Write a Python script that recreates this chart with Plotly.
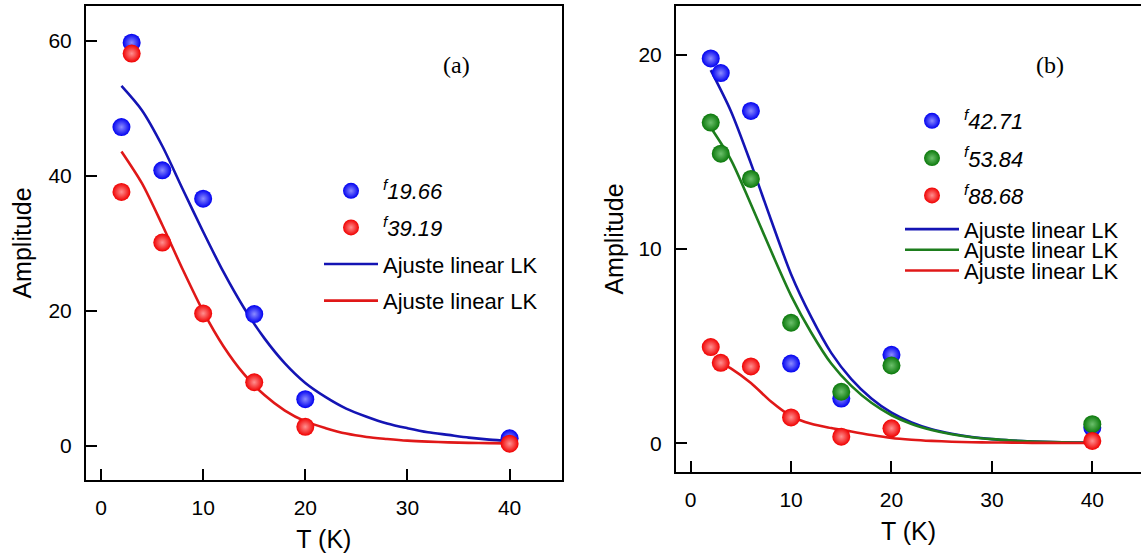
import plotly.graph_objects as go

# ---------------- data ----------------
T_pts = [2, 3, 6, 10, 15, 20, 40]
T_fit = [2, 4, 6, 8, 10, 12, 14, 16, 18, 20, 22, 24, 26, 28, 30, 32, 34, 36, 38, 40]
T_fit_red_b = [3, 4, 6, 8, 10, 12, 14, 16, 18, 20, 22, 24, 26, 28, 30, 32, 34, 36, 38, 40]

# panel (a)
a_f1966 = [47.2, 59.7, 40.8, 36.6, 19.5, 6.9, 1.1]
a_f3919 = [37.6, 58.1, 30.1, 19.6, 9.4, 2.8, 0.3]
a_fit_blue = [53.3, 49.7, 44.4, 38.0, 31.7, 25.7, 20.4, 15.9, 12.2, 9.3,
              7.2, 5.5, 4.3, 3.3, 2.6, 2.0, 1.6, 1.2, 0.9, 0.7]
a_fit_red = [43.6, 38.9, 32.7, 26.1, 19.9, 14.7, 10.6, 7.5, 5.2, 3.6,
             2.6, 1.8, 1.3, 1.0, 0.75, 0.6, 0.5, 0.42, 0.38, 0.35]

# panel (b)
b_f4271 = [19.8, 19.05, 17.1, 4.1, 2.3, 4.55, 0.8]
b_f5384 = [16.5, 14.9, 13.6, 6.2, 2.65, 4.0, 0.98]
b_f8868 = [4.95, 4.14, 3.95, 1.33, 0.34, 0.77, 0.12]
b_fit_blue = [19.2, 17.1, 14.4, 11.5, 8.7, 6.5, 4.65, 3.3, 2.3, 1.57,
              1.07, 0.72, 0.49, 0.32, 0.21, 0.14, 0.09, 0.06, 0.04, 0.03]
b_fit_green = [16.25, 14.6, 12.3, 9.9, 7.6, 5.7, 4.1, 2.95, 2.08, 1.44,
               0.99, 0.68, 0.46, 0.31, 0.21, 0.14, 0.09, 0.06, 0.04, 0.02]
b_fit_red = [4.14, 3.85, 3.1, 2.15, 1.4, 1.0, 0.78, 0.6, 0.42, 0.27,
             0.18, 0.12, 0.08, 0.05, 0.04, 0.03, 0.02, 0.02, 0.01, 0.01]

x_ticks = [0, 10, 20, 30, 40]
y_ticks_a = [0, 20, 40, 60]
y_ticks_b = [0, 10, 20]

fit_label = "Ajuste linear LK"

# ---------------- styles ----------------
BLUE, BLUE_C, BLUE_L = "#0000f0", "#8c8cff", "#1414b4"
RED, RED_C, RED_L = "#f00000", "#ff9090", "#e01818"
GREEN, GREEN_C, GREEN_L = "#0a780a", "#6cc06c", "#1d7d1d"
MSIZE = 18
LW = 2.6
FONT = "Liberation Sans, Arial, sans-serif"


def flabel(num):
    return f"<sup><i>f</i></sup><i>{num}</i>"


def pts(x, y, c, cc, name, xa, ya, legend, group):
    return go.Scatter(x=x, y=y, mode="markers", name=name, xaxis=xa, yaxis=ya,
                      legend=legend, legendgroup=group,
                      marker=dict(size=MSIZE, color=c, line=dict(width=0),
                                  gradient=dict(type="radial", color=cc)))


def fit(x, y, c, xa, ya, legend, group):
    return go.Scatter(x=x, y=y, mode="lines", name=fit_label, xaxis=xa, yaxis=ya,
                      legend=legend, legendgroup=group,
                      line=dict(color=c, width=LW, shape="spline", smoothing=0.8))


fig = go.Figure()
# panel (a): lines beneath markers, legend order controlled via legendrank
t = fit(T_fit, a_fit_blue, BLUE_L, "x", "y", "legend", "a3"); t.legendrank = 3; fig.add_trace(t)
t = fit(T_fit, a_fit_red, RED_L, "x", "y", "legend", "a4"); t.legendrank = 4; fig.add_trace(t)
t = pts(T_pts, a_f1966, BLUE, BLUE_C, flabel("19.66"), "x", "y", "legend", "a1"); t.legendrank = 1; fig.add_trace(t)
t = pts(T_pts, a_f3919, RED, RED_C, flabel("39.19"), "x", "y", "legend", "a2"); t.legendrank = 2; fig.add_trace(t)

# panel (b)
fig.add_trace(fit(T_fit, b_fit_blue, BLUE_L, "x2", "y2", "legend3", "b4"))
fig.add_trace(fit(T_fit, b_fit_green, GREEN_L, "x2", "y2", "legend4", "b5"))
fig.add_trace(fit(T_fit_red_b, b_fit_red, RED_L, "x2", "y2", "legend5", "b6"))
t = pts(T_pts, b_f4271, BLUE, BLUE_C, flabel("42.71"), "x2", "y2", "legend2", "b1"); t.legendrank = 1; fig.add_trace(t)
t = pts(T_pts, b_f5384, GREEN, GREEN_C, flabel("53.84"), "x2", "y2", "legend2", "b2"); t.legendrank = 2; fig.add_trace(t)
t = pts(T_pts, b_f8868, RED, RED_C, flabel("88.68"), "x2", "y2", "legend2", "b3"); t.legendrank = 3; fig.add_trace(t)

W, H = 1141, 554
axis_common = dict(showgrid=False, zeroline=False, showline=True, linecolor="black",
                   linewidth=2, ticks="inside", ticklen=11, tickwidth=2, tickcolor="black",
                   tickfont=dict(family=FONT, size=21, color="black"),
                   ticklabelstandoff=8)
title_font = dict(family=FONT, size=25, color="black")

fig.update_layout(
    width=W, height=H, margin=dict(l=0, r=0, t=0, b=0),
    paper_bgcolor="white", plot_bgcolor="white",
    xaxis=dict(domain=[86 / W, 561.7 / W], range=[-1.47, 45.1], tickvals=x_ticks,
               mirror=True, anchor="y",
               title=dict(text="T (K)", font=title_font, standoff=12), **axis_common),
    yaxis=dict(domain=[(H - 480) / H, (H - 6) / H], range=[-5.08, 65.14], tickvals=y_ticks_a,
               mirror=True, anchor="x",
               title=dict(text="Amplitude", font=title_font, standoff=10), **axis_common),
    xaxis2=dict(domain=[676 / W, 1.0], range=[-1.46, 44.85], tickvals=x_ticks,
                mirror=True, anchor="y2",
                title=dict(text="T (K)", font=title_font, standoff=12), **axis_common),
    yaxis2=dict(domain=[(H - 472) / H, (H - 6) / H], range=[-1.48, 22.5], tickvals=y_ticks_b,
                mirror=False, anchor="x2",
                title=dict(text="Amplitude", font=title_font, standoff=8), **axis_common),
    showlegend=True,
)

leg_common = dict(bgcolor="rgba(0,0,0,0)", borderwidth=0, itemwidth=54,
                  font=dict(family=FONT, size=22, color="black"), itemsizing="trace")
fig.update_layout(
    legend=dict(x=319 / W, y=(H - 170) / H, xanchor="left", yanchor="top",
                tracegroupgap=5, **leg_common),
    legend2=dict(x=900 / W, y=(H - 100) / H, xanchor="left", yanchor="top",
                 tracegroupgap=5.7, **leg_common),
    legend3=dict(x=900 / W, y=(H - 229.3) / H, xanchor="left", yanchor="middle", **leg_common),
    legend4=dict(x=900 / W, y=(H - 250) / H, xanchor="left", yanchor="middle", **leg_common),
    legend5=dict(x=900 / W, y=(H - 270.7) / H, xanchor="left", yanchor="middle", **leg_common),
)

label_font = dict(family="Liberation Serif, Times New Roman, serif", size=24, color="black")
fig.add_annotation(text="(a)", xref="paper", yref="paper", x=456.7 / W, y=(H - 65) / H,
                   showarrow=False, font=label_font, xanchor="center", yanchor="middle")
fig.add_annotation(text="(b)", xref="paper", yref="paper", x=1050 / W, y=(H - 65) / H,
                   showarrow=False, font=label_font, xanchor="center", yanchor="middle")

fig.write_html("out.html")
